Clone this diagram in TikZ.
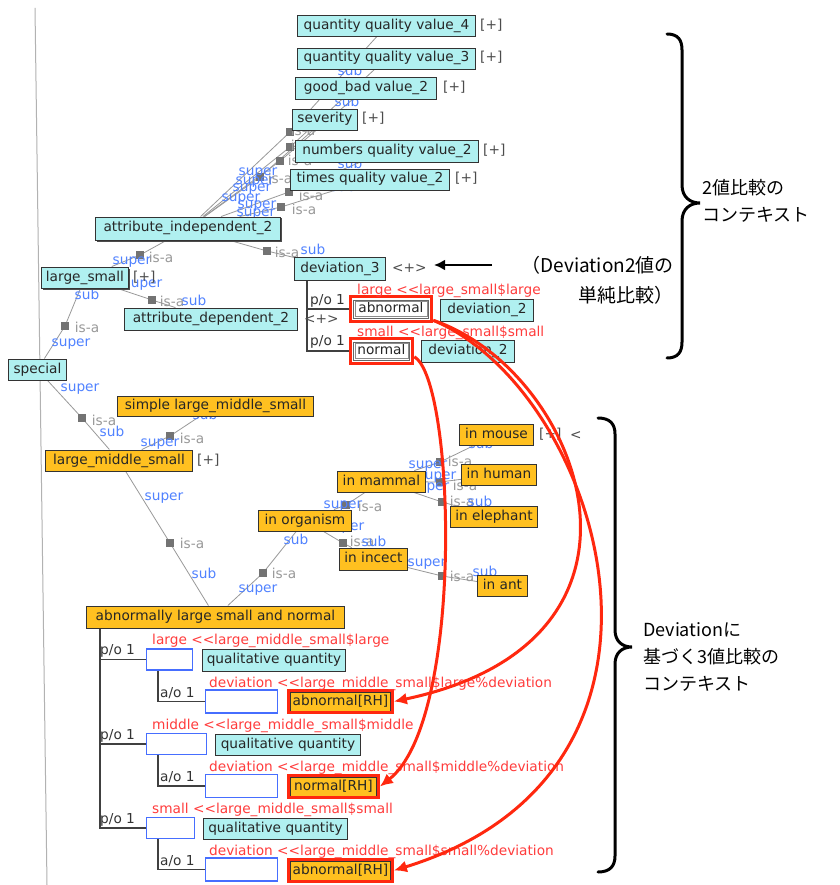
\documentclass[tikz,border=0pt]{standalone}
\usepackage{fontspec}
\setmainfont{DejaVu Sans}
\newfontfamily\jpfont{Noto Sans CJK JP}
\usetikzlibrary{arrows.meta,fit,shadows}
\definecolor{cyanfill}{RGB}{176,240,240}
\definecolor{orfill}{RGB}{255,192,32}
\definecolor{boxblue}{RGB}{70,110,255}
\definecolor{bluetxt}{RGB}{80,130,255}
\definecolor{redc}{RGB}{255,40,15}
\definecolor{redtxt}{RGB}{255,60,60}
\newcommand\nodefont{\fontsize{13.7}{16}\selectfont}
\newcommand\jpA{\jpfont\fontsize{19}{30}\selectfont}
\newcommand\jpB{\jpfont\fontsize{18}{27}\selectfont}
\newcommand\dlt{<\kern0pt<}
\pgfdeclarelayer{bgzero}
\pgfdeclarelayer{background}
\pgfsetlayers{bgzero,background,main}
\tikzset{
  nb/.style={font=\nodefont, text=black!85, inner xsep=0pt, inner ysep=0pt, minimum height=21pt, text height=10pt, text depth=3pt, anchor=west, line width=0.9pt, draw=black!80},
  cybox/.style={nb, fill=cyanfill},
  orbox/.style={nb, fill=orfill},
  bluebox/.style={nb, draw=boxblue, fill=white, line width=1.2pt},
  whitebox/.style={nb, minimum height=18pt, draw=black!60, line width=0.8pt, fill=white},
  innerframe/.style={draw=black!45, line width=0.6pt, inner sep=-2pt},
  redframe/.style={draw=redc, line width=3pt, inner sep=3pt},
  txt/.style={font=\nodefont, inner sep=0pt, text height=10pt, text depth=3pt},
  lft/.style={txt, anchor=west},
  plusl/.style={lft, text=black!70},
  redlbl/.style={lft, text=redtxt},
  supl/.style={txt, text=bluetxt},
  isal/.style={txt, text=black!40},
  sqr/.style={fill=black!55, minimum size=7.5pt, inner sep=0pt, draw=none},
  linkl/.style={draw=black!40, line width=0.8pt},
  treel/.style={draw=black!75, line width=1.2pt},
  redarrow/.style={draw=redc, line width=3pt, -{Latex[length=13pt,width=12pt]}},
  shad/.style={drop shadow={shadow xshift=1.5pt, shadow yshift=-1.5pt, fill=black!70, opacity=1}},
  brc/.style={draw=black, line width=3pt, line cap=round},
}
\begin{document}
\begin{tikzpicture}[x=1pt,y=-1pt]
\useasboundingbox (0,0) rectangle (839,885);
\begin{pgfonlayer}{bgzero}
\fill[white] (0,0) rectangle (839,885);
\draw[black!30, line width=1pt] (35,8) -- (47,885);
\end{pgfonlayer}

% ---------- cyan nodes ----------
\node[cybox, minimum width=178pt] (qqv4) at (297,26) {quantity quality value\_4};
\node[plusl] (pl1) at (480,26) {[+]};
\node[cybox, minimum width=178pt] (qqv3) at (297,58.5) {quantity quality value\_3};
\node[plusl] (pl2) at (480,58.5) {[+]};
\node[cybox, minimum width=141pt, minimum height=22pt] (gb) at (295,88) {good\_bad value\_2};
\node[plusl] (pl3) at (443,88) {[+]};
\node[cybox, minimum width=65pt] (sev) at (292,119.5) {severity};
\node[plusl] (pl4) at (362,119.5) {[+]};
\node[cybox, minimum width=183pt, minimum height=22pt] (num) at (295,151) {numbers quality value\_2};
\node[plusl] (pl5) at (483,151) {[+]};
\node[cybox, minimum width=159pt] (times) at (290,179.5) {times quality value\_2};
\node[plusl] (pl6) at (455,179.5) {[+]};
\node[cybox, shad, minimum width=185pt, minimum height=23pt] (ai2) at (95,228.5) {attribute\_independent\_2};
\node[cybox, shad, minimum width=87pt] (ls) at (41,277.5) {large\_small};
\node[plusl] (pl7) at (133,277.5) {[+]};
\node[cybox, minimum width=173pt, minimum height=22pt] (ad2) at (124,319) {attribute\_dependent\_2};
\node[plusl] (pl8) at (304,320) {<+>};
\node[cybox, minimum width=91pt, minimum height=23pt] (dev3) at (294,268.5) {deviation\_3};
\node[plusl] (pl9) at (392,268.5) {<+>};
\node[whitebox, minimum width=75pt] (abn) at (353,309) {abnormal};
\node[innerframe, fit=(abn)] (abnI) {};
\node[redframe, fit=(abn)] (abnR) {};
\node[cybox, minimum width=93pt, minimum height=22pt] (dev2a) at (440,310) {deviation\_2};
\node[whitebox, minimum width=56pt] (nor) at (353,351) {normal};
\node[innerframe, fit=(nor)] (norI) {};
\node[redframe, fit=(nor)] (norR) {};
\node[cybox, minimum width=93pt, minimum height=22pt] (dev2b) at (421,351) {deviation\_2};
\node[cybox, minimum width=58pt] (special) at (8,369.5) {special};

\node[redlbl] (r1) at (357,291) {large \dlt large\_small\$large};
\node[redlbl] (r2) at (357,333) {small \dlt large\_small\$small};

% ---------- orange nodes ----------
\node[orbox, minimum width=196pt, minimum height=20pt] (slms) at (117,406) {simple large\_middle\_small};
\node[orbox, minimum width=147pt] (lms) at (45,460.5) {large\_middle\_small};
\node[plusl] (pl10) at (197,460.5) {[+]};
\node[orbox, minimum width=74pt] (mouse) at (459,434.5) {in mouse};
\node[plusl] (pl11) at (539,434.5) {[+]};
\node[plusl] (pl12) at (570,436) {<};
\node[orbox, minimum width=75pt] (human) at (461,474.5) {in human};
\node[orbox, minimum width=88pt] (mammal) at (337,481.5) {in mammal};
\node[orbox, minimum width=87pt] (elephant) at (450,516.5) {in elephant};
\node[orbox, minimum width=93pt] (organism) at (258,520.5) {in organism};
\node[orbox, minimum width=68pt, minimum height=22pt] (incect) at (339,559) {in incect};
\node[orbox, minimum width=50pt] (ant) at (477,585.5) {in ant};
\node[orbox, minimum width=258pt, minimum height=22pt] (alsn) at (86,617) {abnormally large small and normal};

% ---------- bottom part ----------
\node[bluebox, minimum width=46pt] (b1) at (146,659.5) {};
\node[cybox, minimum width=143pt, minimum height=22pt] (qq1) at (202,660) {qualitative quantity};
\node[bluebox, minimum width=72pt, minimum height=23pt] (b2) at (205,701.5) {};
\node[orbox, minimum width=100pt, minimum height=19pt] (rh1) at (290,701.5) {abnormal[RH]};
\node[redframe, inner sep=1.5pt, fit=(rh1)] (rh1R) {};
\node[bluebox, minimum width=60pt] (b3) at (146,744) {};
\node[cybox, minimum width=145pt] (qq2) at (215,744.5) {qualitative quantity};
\node[bluebox, minimum width=72pt, minimum height=23pt] (b4) at (205,786) {};
\node[orbox, minimum width=86pt, minimum height=19pt] (rh2) at (290,786.5) {normal[RH]};
\node[redframe, inner sep=1.5pt, fit=(rh2)] (rh2R) {};
\node[bluebox, minimum width=48pt] (b5) at (146,828) {};
\node[cybox, minimum width=144pt] (qq3) at (203,828.5) {qualitative quantity};
\node[bluebox, minimum width=72pt, minimum height=23pt] (b6) at (205,869.5) {};
\node[orbox, minimum width=100pt, minimum height=19pt] (rh3) at (290,870.5) {abnormal[RH]};
\node[redframe, inner sep=1.5pt, fit=(rh3)] (rh3R) {};

\node[redlbl] (r3) at (152,641) {large \dlt large\_middle\_small\$large};
\node[redlbl] (r4) at (209,684) {deviation \dlt large\_middle\_small\$large\%deviation};
\node[redlbl] (r5) at (152,726) {middle \dlt large\_middle\_small\$middle};
\node[redlbl] (r6) at (209,768) {deviation \dlt large\_middle\_small\$middle\%deviation};
\node[redlbl] (r7) at (152,810) {small \dlt large\_middle\_small\$small};
\node[redlbl] (r8) at (209,852) {deviation \dlt large\_middle\_small\$small\%deviation};

\node[lft, text=black!80] (po1) at (100,651) {p/o 1};
\node[lft, text=black!80] (po2) at (100,736) {p/o 1};
\node[lft, text=black!80] (po3) at (100,820) {p/o 1};
\node[lft, text=black!80] (ao1) at (160,694) {a/o 1};
\node[lft, text=black!80] (ao2) at (160,778) {a/o 1};
\node[lft, text=black!80] (ao3) at (160,862) {a/o 1};
\node[lft, text=black!80] (po4) at (310,301) {p/o 1};
\node[lft, text=black!80] (po5) at (310,342) {p/o 1};

% ---------- tree lines and is-a links ----------
\coordinate (pv) at (100,628);
\coordinate (av1) at (158,670);
\coordinate (av2) at (158,755);
\coordinate (av3) at (158,839);
\coordinate (dv) at (307,280);
\coordinate (s1) at (65,326);
\coordinate (s2) at (140,255);
\coordinate (s3) at (152,300);
\coordinate (s4) at (267,251);
\coordinate (s5) at (290,132);
\coordinate (s6) at (290,147);
\coordinate (s7) at (280,161);
\coordinate (s8) at (260,177);
\coordinate (s9) at (289,192);
\coordinate (s10) at (281,207);
\coordinate (s11) at (82,418);
\coordinate (s12) at (170,436);
\coordinate (s13) at (170,543);
\coordinate (s14) at (263,573);
\coordinate (s15) at (346,505);
\coordinate (s16) at (343,543);
\coordinate (s17) at (440,462);
\coordinate (s18) at (440,482);
\coordinate (s19) at (442,502);
\coordinate (s20) at (442,576);

\begin{pgfonlayer}{background}
\draw[treel] (pv) |- (b1.west);
\draw[treel] (pv) |- (b3.west);
\draw[treel] (pv) |- (b5.west);
\draw[treel] (av1) |- (b2.west);
\draw[treel] (av2) |- (b4.west);
\draw[treel] (av3) |- (b6.west);
\draw[treel] (dv) |- (abnR.west);
\draw[treel] (dv) |- (norR.west);

\draw[linkl] (special) -- (s1) -- (ls);
\draw[linkl] (ai2) -- (s2) -- (ls);
\draw[linkl] (ls) -- (s3) -- (ad2);
\draw[linkl] (ai2) -- (s4) -- (dev3);
\draw[linkl] (ai2) -- (s5) -- (qqv4);
\draw[linkl] (ai2) -- (s6) -- (qqv3);
\draw[linkl] (ai2) -- (s7) -- (gb);
\draw[linkl] (ai2) -- (s8) -- (sev);
\draw[linkl] (ai2) -- (s9) -- (num);
\draw[linkl] (ai2) -- (s10) -- (times);
\draw[linkl] (special) -- (s11) -- (lms);
\draw[linkl] (lms) -- (s12) -- (slms);
\draw[linkl] (lms) -- (s13) -- (alsn);
\draw[linkl] (organism) -- (s14) -- (alsn);
\draw[linkl] (organism) -- (s15) -- (mammal);
\draw[linkl] (organism) -- (s16) -- (incect);
\draw[linkl] (mammal) -- (s17) -- (mouse);
\draw[linkl] (mammal) -- (s18) -- (human);
\draw[linkl] (mammal) -- (s19) -- (elephant);
\draw[linkl] (incect) -- (s20) -- (ant);

\foreach \s in {s1,s2,s3,s4,s5,s6,s7,s8,s9,s10,s11,s12,s13,s14,s15,s16,s17,s18,s19,s20}
  \node[sqr] (q\s) at (\s) {};

% labels
\node[isal] (il1) at (87,329) {is-a};
\node[supl] (sp1) at (71,343) {super};
\node[supl] (sb1) at (87,296) {sub};
\node[supl] (sp2) at (132,261) {super};
\node[isal] (il2) at (161,259) {is-a};
\node[supl] (sp3) at (143,284) {super};
\node[isal] (il3) at (172,303) {is-a};
\node[supl] (sb3) at (194,302) {sub};
\node[isal] (il4) at (287,254) {is-a};
\node[supl] (sb4) at (313,251) {sub};
\node[supl] (sp5) at (258,172) {super};
\node[supl] (sp6) at (255,181) {super};
\node[supl] (sp7) at (252,188) {super};
\node[supl] (sp8) at (241,198) {super};
\node[supl] (sp9) at (257,205) {super};
\node[supl] (sp10) at (256,213) {super};
\node[isal] (il5) at (303,132) {is-a};
\node[isal] (il6) at (303,147) {is-a};
\node[isal] (il7) at (300,162) {is-a};
\node[isal] (il8) at (280,180) {is-a};
\node[isal] (il9) at (311,197) {is-a};
\node[isal] (il10) at (304,211) {is-a};
\node[supl] (sb5) at (350,72) {sub};
\node[supl] (sb6) at (347,103) {sub};
\node[supl] (sb7) at (350,165) {sub};
\node[supl] (sb8) at (343,188) {sub};
\node[isal] (il11) at (104,422) {is-a};
\node[supl] (sp11) at (80,388) {super};
\node[supl] (sb11) at (112,433) {sub};
\node[isal] (il12) at (192,440) {is-a};
\node[supl] (sp12) at (160,443) {super};
\node[supl] (sb12) at (205,416) {sub};
\node[isal] (il13) at (192,545) {is-a};
\node[supl] (sp13) at (164,497) {super};
\node[supl] (sb13) at (204,575) {sub};
\node[isal] (il14) at (284,575) {is-a};
\node[supl] (sp14) at (258,589) {super};
\node[supl] (sb14) at (296,541) {sub};
\node[supl] (sp15) at (343,505) {super};
\node[isal] (il15) at (370,508) {is-a};
\node[supl] (sp15b) at (345,527) {super};
\node[isal] (il16) at (362,543) {is-a};
\node[supl] (sb16) at (374,543) {sub};
\node[supl] (sp17) at (428,465) {super};
\node[isal] (il17) at (460,463) {is-a};
\node[supl] (sb17) at (481,445) {sub};
\node[supl] (sp18) at (437,476) {super};
\node[supl] (sp18b) at (430,487) {super};
\node[isal] (il18) at (465,487) {is-a};
\node[isal] (il19) at (462,503) {is-a};
\node[supl] (sb19) at (480,503) {sub};
\node[supl] (sp20) at (427,563) {super};
\node[isal] (il20) at (462,578) {is-a};
\node[supl] (sb20) at (485,573) {sub};
\end{pgfonlayer}

% ---------- red arrows ----------
\draw[redarrow] (abnR.-15) .. controls (580,370) and (685,640) .. (rh1R.east);
\draw[redarrow] (abnR.-15) .. controls (600,390) and (720,770) .. (rh3R.east);
\draw[redarrow] (norR.-10) .. controls (455,380) and (465,720) .. (rh2R.east);

% ---------- annotations ----------
\coordinate (ba1) at (492,265);
\coordinate (ba2) at (434,265);
\draw[line width=2.5pt, -{Latex[length=11pt,width=11pt]}] (ba1) -- (ba2);
\node[font=\jpA, align=right, anchor=east, inner sep=0pt] (jpa) at (674,280) {（Deviation2値の\\単純比較）};
\node[font=\jpB, align=left, anchor=west, inner sep=0pt] (jpb) at (702,201) {2値比較の\\コンテキスト};
\node[font=\jpB, align=left, anchor=west, inner sep=0pt] (jpc) at (643,657) {Deviationに\\基づく3値比較の\\コンテキスト};

\draw[brc] (667,34) .. controls (678,34) and (682,40) .. (682,50) -- (682,185)
  .. controls (682,197) and (690,203) .. (700,203)
  .. controls (690,203) and (682,209) .. (682,221) -- (682,342)
  .. controls (682,352) and (678,358) .. (667,358);
\draw[brc] (598,418) .. controls (610,418) and (615,424) .. (615,434) -- (615,630)
  .. controls (615,641) and (622,647) .. (632,647)
  .. controls (622,647) and (615,653) .. (615,664) -- (615,856)
  .. controls (615,866) and (610,872) .. (598,872);
\end{tikzpicture}
\end{document}
